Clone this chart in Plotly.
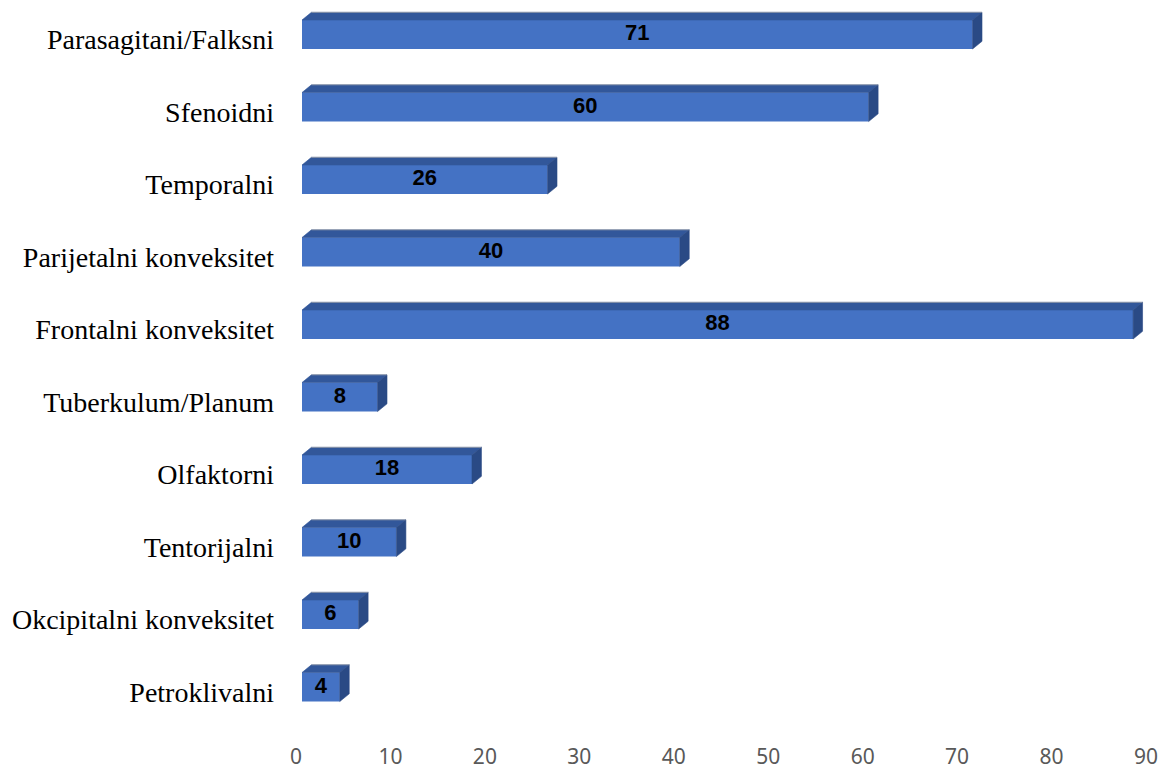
import plotly.graph_objects as go

# Meningioma localisation counts
categories = [
    "Parasagitani/Falksni",
    "Sfenoidni",
    "Temporalni",
    "Parijetalni konveksitet",
    "Frontalni konveksitet",
    "Tuberkulum/Planum",
    "Olfaktorni",
    "Tentorijalni",
    "Okcipitalni konveksitet",
    "Petroklivalni",
]
counts = [71, 60, 26, 40, 88, 8, 18, 10, 6, 4]
x_tick_values = [0, 10, 20, 30, 40, 50, 60, 70, 80, 90]

# ---- geometry / styling ----
W, H = 1161, 769
M_L, M_R, M_T, M_B = 296, 9, 2, 38
PLOT_W = W - M_L - M_R
AXIS_SHIFT_PX = 6          # bars sit slightly right of the tick scale (3-D floor offset)
CAT_PX = 72.5              # pixels between category centres
TOP_CENTER_PX = 34.5       # pixel row of the first category centre

BAR_W = 0.4
DEPTH_X = 1.0              # depth of the 3-D extrusion, x units
DEPTH_Y = 0.106            # depth of the 3-D extrusion, category units

FRONT = "#4472C4"
TOP = "#32579A"
SIDE = "#2A4A85"

n = len(categories)
ypos = [n - 1 - i for i in range(n)]

plot_h = H - M_T - M_B
y_top = (n - 1) + (TOP_CENTER_PX - M_T) / CAT_PX
y_bot = y_top - plot_h / CAT_PX

x_max = x_tick_values[-1]
ax_span = (PLOT_W - AXIS_SHIFT_PX) / PLOT_W

# top and side faces of each bar as closed polygons
top_x, top_y, side_x, side_y, edge_x, edge_y = [], [], [], [], [], []
h = BAR_W / 2
for v, y in zip(counts, ypos):
    top_x += [0, v, v + DEPTH_X, DEPTH_X, 0, None]
    top_y += [y + h, y + h, y + h + DEPTH_Y, y + h + DEPTH_Y, y + h, None]
    side_x += [v, v, v + DEPTH_X, v + DEPTH_X, v, None]
    side_y += [y - h, y + h, y + h + DEPTH_Y, y - h + DEPTH_Y, y - h, None]
    edge_x += [DEPTH_X, v + DEPTH_X, None]
    edge_y += [y + h + DEPTH_Y, y + h + DEPTH_Y, None]

fig = go.Figure()

# invisible trace so the tick scale axis is drawn
fig.add_trace(go.Scatter(x=[0, x_max], y=[ypos[0], ypos[0]], mode="none",
                         xaxis="x", yaxis="y", showlegend=False, hoverinfo="skip"))

fig.add_trace(go.Bar(
    x=counts, y=ypos, orientation="h", width=BAR_W,
    marker=dict(color=FRONT, line=dict(width=0)),
    xaxis="x2", yaxis="y", showlegend=False, hoverinfo="skip",
))

fig.add_trace(go.Scatter(
    x=top_x, y=top_y, mode="lines", fill="toself", fillcolor=TOP,
    line=dict(color=TOP, width=0.6), xaxis="x2", yaxis="y",
    showlegend=False, hoverinfo="skip",
))
fig.add_trace(go.Scatter(
    x=side_x, y=side_y, mode="lines", fill="toself", fillcolor=SIDE,
    line=dict(color=SIDE, width=0.6), xaxis="x2", yaxis="y",
    showlegend=False, hoverinfo="skip",
))
fig.add_trace(go.Scatter(
    x=edge_x, y=edge_y, mode="lines",
    line=dict(color="rgba(170,170,170,0.7)", width=1), xaxis="x2", yaxis="y",
    showlegend=False, hoverinfo="skip",
))

# value labels centred on the front face
fig.add_trace(go.Scatter(
    x=[v / 2 for v in counts], y=ypos, mode="text",
    text=[str(v) for v in counts],
    textfont=dict(family="Liberation Sans", size=22, color="#000000", weight="bold"),
    textposition="middle center",
    xaxis="x2", yaxis="y", showlegend=False, hoverinfo="skip",
))

fig.update_layout(
    width=W, height=H,
    margin=dict(l=M_L, r=M_R, t=M_T, b=M_B, autoexpand=False),
    paper_bgcolor="white", plot_bgcolor="white",
    template="none",
    showlegend=False,
    xaxis=dict(
        domain=[0, ax_span], range=[0, x_max], anchor="y",
        tickmode="array", tickvals=x_tick_values,
        ticktext=[str(t) for t in x_tick_values],
        tickfont=dict(family="Noto Sans", size=21, color="#595959"),
        showgrid=False, zeroline=False, showline=False, ticks="",
        ticklabelstandoff=11, automargin=False,
    ),
    xaxis2=dict(
        domain=[1 - ax_span, 1], range=[0, x_max], anchor="y",
        visible=False, showgrid=False, zeroline=False,
    ),
    yaxis=dict(
        range=[y_bot, y_top], anchor="x",
        tickmode="array", tickvals=ypos, ticktext=categories,
        tickfont=dict(family="Liberation Serif", size=28, color="#000000"),
        showgrid=False, zeroline=False, showline=False, ticks="",
        ticklabelstandoff=21, ticklabelshift=5, automargin=False,
    ),
)

fig.write_html("out.html")
